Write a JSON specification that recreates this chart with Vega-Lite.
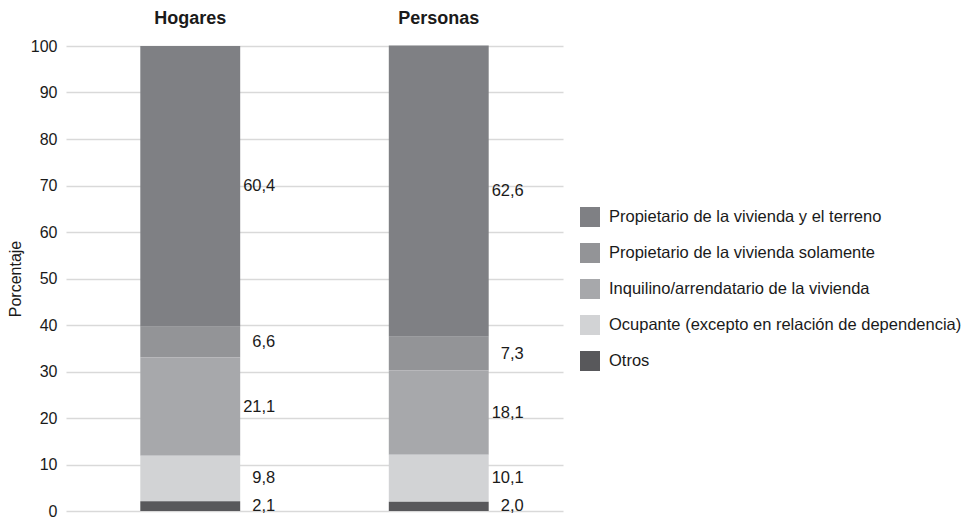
{
  "$schema": "https://vega.github.io/schema/vega-lite/v6.json",
  "width": 497,
  "height": 465,
  "autosize": {"type": "none"},
  "padding": {"left": 66, "top": 46, "right": 410, "bottom": 8},
  "background": "white",
  "config": {
    "font": "Liberation Sans",
    "view": {"stroke": null}
  },
  "data": {
    "values": [
      {"grupo": "Hogares", "tipo": "Propietario de la vivienda y el terreno", "valor": 60.4, "orden": 5, "etiqueta": "60,4"},
      {"grupo": "Hogares", "tipo": "Propietario de la vivienda solamente", "valor": 6.6, "orden": 4, "etiqueta": "6,6"},
      {"grupo": "Hogares", "tipo": "Inquilino/arrendatario de la vivienda", "valor": 21.1, "orden": 3, "etiqueta": "21,1"},
      {"grupo": "Hogares", "tipo": "Ocupante (excepto en relación de dependencia)", "valor": 9.8, "orden": 2, "etiqueta": "9,8"},
      {"grupo": "Hogares", "tipo": "Otros", "valor": 2.1, "orden": 1, "etiqueta": "2,1"},
      {"grupo": "Personas", "tipo": "Propietario de la vivienda y el terreno", "valor": 62.6, "orden": 5, "etiqueta": "62,6"},
      {"grupo": "Personas", "tipo": "Propietario de la vivienda solamente", "valor": 7.3, "orden": 4, "etiqueta": "7,3"},
      {"grupo": "Personas", "tipo": "Inquilino/arrendatario de la vivienda", "valor": 18.1, "orden": 3, "etiqueta": "18,1"},
      {"grupo": "Personas", "tipo": "Ocupante (excepto en relación de dependencia)", "valor": 10.1, "orden": 2, "etiqueta": "10,1"},
      {"grupo": "Personas", "tipo": "Otros", "valor": 2.0, "orden": 1, "etiqueta": "2,0"}
    ]
  },
  "encoding": {
    "x": {
      "field": "grupo", "type": "nominal", "sort": ["Hogares", "Personas"],
      "scale": {"paddingInner": 0.598, "paddingOuter": 0.299},
      "axis": {
        "orient": "top", "title": null, "domain": false, "ticks": false,
        "labelAngle": 0, "labelFontSize": 18, "labelFontWeight": "bold",
        "labelColor": "#1a1a1a", "labelPadding": 19
      }
    }
  },
  "layer": [
    {
      "mark": {"type": "bar"},
      "encoding": {
        "y": {
          "field": "valor", "type": "quantitative", "stack": "zero",
          "scale": {"domain": [0, 100]},
          "axis": {
            "title": "Porcentaje", "titleFontSize": 16, "titleFontWeight": "normal",
            "titleColor": "#1a1a1a", "titlePadding": 7,
            "values": [0, 10, 20, 30, 40, 50, 60, 70, 80, 90, 100],
            "labelFontSize": 16, "labelColor": "#1a1a1a", "labelPadding": 9,
            "domain": false, "ticks": false,
            "gridColor": "#d9d9d9", "gridWidth": 1.5
          }
        },
        "order": {"field": "orden", "type": "quantitative"},
        "color": {
          "field": "tipo", "type": "nominal",
          "sort": ["Propietario de la vivienda y el terreno", "Propietario de la vivienda solamente", "Inquilino/arrendatario de la vivienda", "Ocupante (excepto en relación de dependencia)", "Otros"],
          "scale": {
            "domain": ["Propietario de la vivienda y el terreno", "Propietario de la vivienda solamente", "Inquilino/arrendatario de la vivienda", "Ocupante (excepto en relación de dependencia)", "Otros"],
            "range": ["#7f8084", "#939497", "#a7a8ab", "#d2d3d5", "#58585b"]
          },
          "legend": {
            "title": null, "orient": "none", "legendX": 514, "legendY": 161,
            "symbolType": "square", "symbolSize": 400, "symbolStrokeWidth": 0,
            "symbolOpacity": 1, "labelFontSize": 16.5, "labelColor": "#1a1a1a",
            "rowPadding": 16, "labelOffset": 9, "labelLimit": 420
          }
        }
      }
    },
    {
      "transform": [
        {"stack": "valor", "groupby": ["grupo"], "sort": [{"field": "orden", "order": "ascending"}], "as": ["v0", "v1"]},
        {"calculate": "(datum.v0 + datum.v1) / 2", "as": "mid"}
      ],
      "mark": {"type": "text", "align": "right", "baseline": "middle", "dx": 85, "fontSize": 16.5, "color": "#1a1a1a"},
      "encoding": {
        "y": {"field": "mid", "type": "quantitative"},
        "text": {"field": "etiqueta", "type": "nominal"}
      }
    }
  ]
}
